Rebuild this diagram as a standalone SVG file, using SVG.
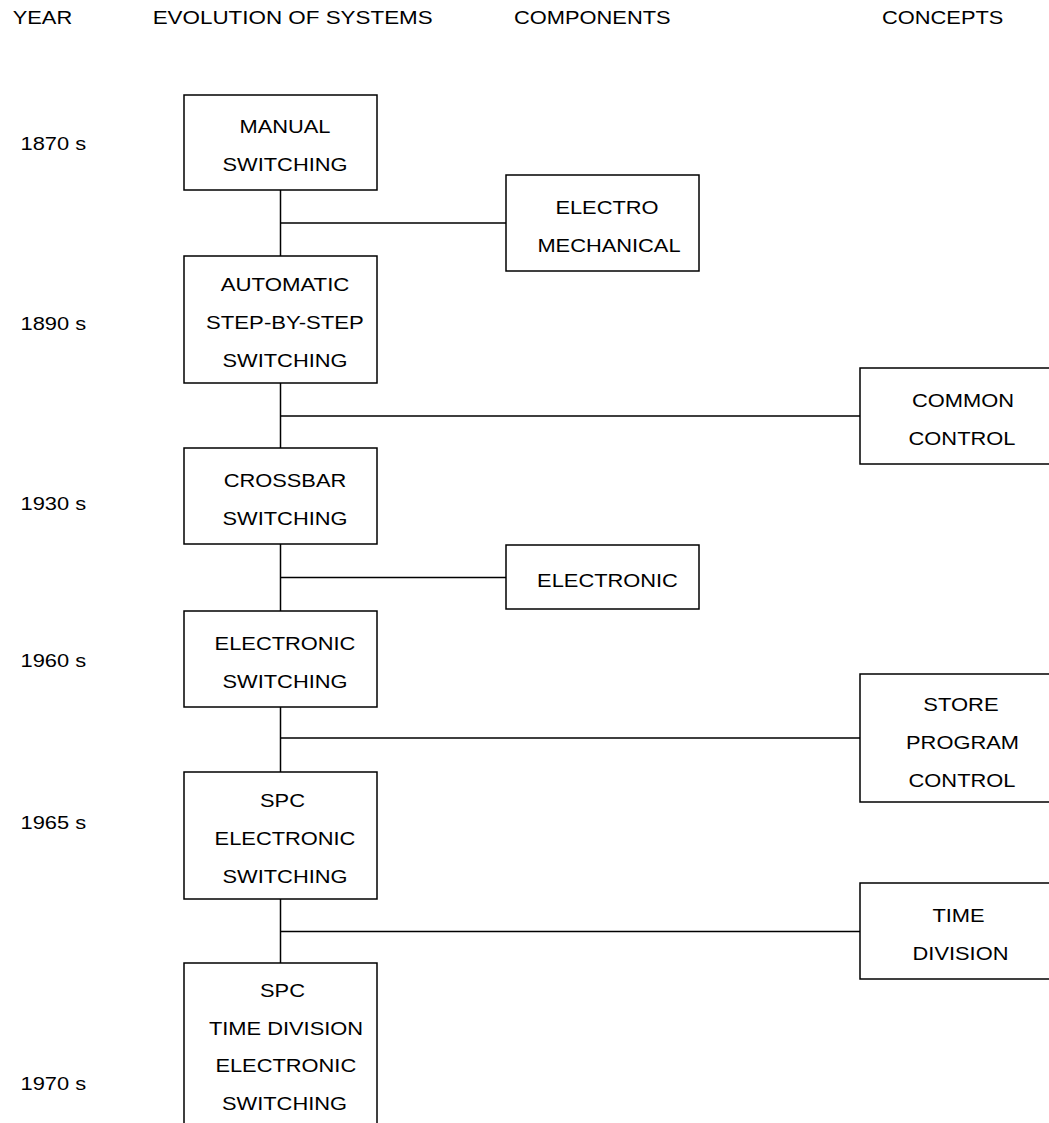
<svg xmlns="http://www.w3.org/2000/svg" width="1049" height="1123" viewBox="0 0 1049 1123">
<style>
  text { font-family: "Liberation Sans", Arial, sans-serif; font-size: 19px; fill: #000; }
  .c { text-anchor: middle; }
  .box { fill: #fff; stroke: #000; stroke-width: 1.5; }
  .ln { stroke: #000; stroke-width: 1.5; fill: none; }
</style>
<rect width="1049" height="1123" fill="#fff"/>
<g id="headers">
  <text x="12.7" y="24.3" textLength="59.5" lengthAdjust="spacingAndGlyphs">YEAR</text>
  <text x="152.7" y="24.3" textLength="280" lengthAdjust="spacingAndGlyphs">EVOLUTION OF SYSTEMS</text>
  <text x="514" y="24.3" textLength="156.6" lengthAdjust="spacingAndGlyphs">COMPONENTS</text>
  <text x="882" y="24.3" textLength="121.4" lengthAdjust="spacingAndGlyphs">CONCEPTS</text>
</g>
<g id="years">
  <text x="20.5" y="149.5" textLength="65.6" lengthAdjust="spacingAndGlyphs">1870 s</text>
  <text x="20.5" y="330" textLength="65.6" lengthAdjust="spacingAndGlyphs">1890 s</text>
  <text x="20.5" y="510" textLength="65.6" lengthAdjust="spacingAndGlyphs">1930 s</text>
  <text x="20.5" y="667" textLength="65.6" lengthAdjust="spacingAndGlyphs">1960 s</text>
  <text x="20.5" y="829" textLength="65.6" lengthAdjust="spacingAndGlyphs">1965 s</text>
  <text x="20.5" y="1090" textLength="65.6" lengthAdjust="spacingAndGlyphs">1970 s</text>
</g>
<g id="connectors">
  <path class="ln" d="M280.5 190 V256 M280.5 223 H506"/>
  <path class="ln" d="M280.5 383 V448 M280.5 416 H860"/>
  <path class="ln" d="M280.5 544 V611 M280.5 577.5 H506"/>
  <path class="ln" d="M280.5 707 V772 M280.5 738 H860"/>
  <path class="ln" d="M280.5 899 V963 M280.5 931.5 H860"/>
</g>
<g id="manual-switching">
  <rect class="box" x="184" y="95" width="193" height="95"/>
  <text class="c" x="285" y="133.2" textLength="91" lengthAdjust="spacingAndGlyphs">MANUAL</text>
  <text class="c" x="285" y="171.2" textLength="125" lengthAdjust="spacingAndGlyphs">SWITCHING</text>
</g>
<g id="electro-mechanical">
  <rect class="box" x="506" y="175" width="193" height="96"/>
  <text class="c" x="607" y="213.7" textLength="103.2" lengthAdjust="spacingAndGlyphs">ELECTRO</text>
  <text class="c" x="609" y="251.7" textLength="143.2" lengthAdjust="spacingAndGlyphs">MECHANICAL</text>
</g>
<g id="automatic-switching">
  <rect class="box" x="184" y="256" width="193" height="127"/>
  <text class="c" x="285" y="291.2" textLength="128.7" lengthAdjust="spacingAndGlyphs">AUTOMATIC</text>
  <text class="c" x="285" y="329.2" textLength="157.8" lengthAdjust="spacingAndGlyphs">STEP-BY-STEP</text>
  <text class="c" x="285" y="367.2" textLength="125" lengthAdjust="spacingAndGlyphs">SWITCHING</text>
</g>
<g id="common-control">
  <rect class="box" x="860" y="368" width="210" height="96"/>
  <text class="c" x="963" y="406.7" textLength="102" lengthAdjust="spacingAndGlyphs">COMMON</text>
  <text class="c" x="962" y="444.7" textLength="106.8" lengthAdjust="spacingAndGlyphs">CONTROL</text>
</g>
<g id="crossbar-switching">
  <rect class="box" x="184" y="448" width="193" height="96"/>
  <text class="c" x="285" y="486.7" textLength="122.6" lengthAdjust="spacingAndGlyphs">CROSSBAR</text>
  <text class="c" x="285" y="524.7" textLength="125" lengthAdjust="spacingAndGlyphs">SWITCHING</text>
</g>
<g id="electronic">
  <rect class="box" x="506" y="545" width="193" height="64"/>
  <text class="c" x="607.5" y="586.7" textLength="140.8" lengthAdjust="spacingAndGlyphs">ELECTRONIC</text>
</g>
<g id="electronic-switching">
  <rect class="box" x="184" y="611" width="193" height="96"/>
  <text class="c" x="285" y="649.7" textLength="140.8" lengthAdjust="spacingAndGlyphs">ELECTRONIC</text>
  <text class="c" x="285" y="687.7" textLength="125" lengthAdjust="spacingAndGlyphs">SWITCHING</text>
</g>
<g id="store-program-control">
  <rect class="box" x="860" y="674" width="210" height="128"/>
  <text class="c" x="961" y="710.7" textLength="75.3" lengthAdjust="spacingAndGlyphs">STORE</text>
  <text class="c" x="962.5" y="748.7" textLength="112.9" lengthAdjust="spacingAndGlyphs">PROGRAM</text>
  <text class="c" x="962" y="786.7" textLength="106.8" lengthAdjust="spacingAndGlyphs">CONTROL</text>
</g>
<g id="spc-electronic-switching">
  <rect class="box" x="184" y="772" width="193" height="127"/>
  <text class="c" x="282.5" y="807.2" textLength="44.9" lengthAdjust="spacingAndGlyphs">SPC</text>
  <text class="c" x="285" y="845.2" textLength="140.8" lengthAdjust="spacingAndGlyphs">ELECTRONIC</text>
  <text class="c" x="285" y="883.2" textLength="125" lengthAdjust="spacingAndGlyphs">SWITCHING</text>
</g>
<g id="time-division">
  <rect class="box" x="860" y="883" width="210" height="96"/>
  <text class="c" x="958.5" y="921.7" textLength="52.2" lengthAdjust="spacingAndGlyphs">TIME</text>
  <text class="c" x="960.5" y="959.7" textLength="95.9" lengthAdjust="spacingAndGlyphs">DIVISION</text>
</g>
<g id="spc-time-division-electronic-switching">
  <rect class="box" x="184" y="963" width="193" height="190"/>
  <text class="c" x="282.5" y="997" textLength="44.9" lengthAdjust="spacingAndGlyphs">SPC</text>
  <text class="c" x="286" y="1034.5" textLength="154.2" lengthAdjust="spacingAndGlyphs">TIME DIVISION</text>
  <text class="c" x="285.8" y="1072" textLength="140.8" lengthAdjust="spacingAndGlyphs">ELECTRONIC</text>
  <text class="c" x="284.5" y="1110" textLength="125" lengthAdjust="spacingAndGlyphs">SWITCHING</text>
</g>
</svg>
